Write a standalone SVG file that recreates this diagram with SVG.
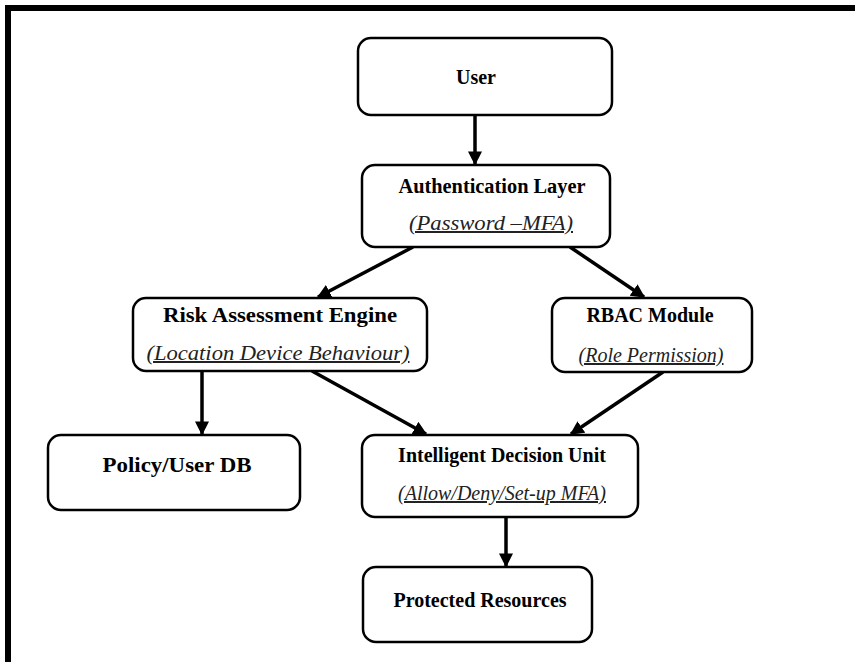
<svg xmlns="http://www.w3.org/2000/svg" width="855" height="662" viewBox="0 0 855 662">
<defs>
<style>
.box{fill:#fff;stroke:#000;stroke-width:2.5}
.t{font-family:"Liberation Serif","Times New Roman",serif;font-weight:bold;font-size:20px;fill:#000;text-anchor:middle}
.s{font-family:"Liberation Serif","Times New Roman",serif;font-style:italic;font-size:20px;fill:#222;text-anchor:middle;text-decoration:underline}
.c{stroke:#000;stroke-width:3.5;fill:none;marker-end:url(#ah)}
</style>
<marker id="ah" viewBox="0 0 10 10" refX="9" refY="5" markerWidth="4" markerHeight="4" orient="auto" markerUnits="strokeWidth">
<path d="M0,0 L10,5 L0,10 z" fill="#000"/>
</marker>
</defs>
<rect width="855" height="662" fill="#fff"/>
<g id="frame">
<line x1="5" y1="8" x2="855" y2="8" stroke="#000" stroke-width="6"/>
<line x1="8" y1="5" x2="8" y2="662" stroke="#000" stroke-width="6"/>
</g>
<g id="connectors">
<line class="c" x1="475" y1="115" x2="475" y2="164"/>
<line class="c" x1="413" y1="247" x2="318" y2="297"/>
<line class="c" x1="570" y1="247" x2="644" y2="297"/>
<line class="c" x1="202" y1="371" x2="202" y2="434"/>
<line class="c" x1="312" y1="371" x2="426" y2="434"/>
<line class="c" x1="663" y1="372" x2="571" y2="434"/>
<line class="c" x1="506" y1="517" x2="506" y2="566"/>
</g>
<g id="user">
<rect class="box" x="358" y="38" width="254" height="77" rx="13"/>
<text class="t" x="476" y="84">User</text>
</g>
<g id="auth">
<rect class="box" x="362" y="165" width="248" height="82" rx="13"/>
<text class="t" x="492" y="193" textLength="187" lengthAdjust="spacingAndGlyphs">Authentication Layer</text>
<text class="s" x="491" y="230" textLength="164" lengthAdjust="spacingAndGlyphs">(Password –MFA)</text>
</g>
<g id="risk">
<rect class="box" x="133" y="298" width="294" height="73" rx="13"/>
<text class="t" x="280" y="322" textLength="234" lengthAdjust="spacingAndGlyphs">Risk Assessment Engine</text>
<text class="s" x="278" y="360" textLength="263" lengthAdjust="spacingAndGlyphs">(Location Device Behaviour)</text>
</g>
<g id="rbac">
<rect class="box" x="552" y="298" width="200" height="74" rx="13"/>
<text class="t" x="650" y="322">RBAC Module</text>
<text class="s" x="651" y="362">(Role Permission)</text>
</g>
<g id="policy">
<rect class="box" x="48" y="435" width="252" height="75" rx="13"/>
<text class="t" x="177" y="472" textLength="149" lengthAdjust="spacingAndGlyphs">Policy/User DB</text>
</g>
<g id="decision">
<rect class="box" x="362" y="435" width="276" height="82" rx="13"/>
<text class="t" x="502" y="462">Intelligent Decision Unit</text>
<text class="s" x="502" y="500">(Allow/Deny/Set-up MFA)</text>
</g>
<g id="protected">
<rect class="box" x="363" y="567" width="229" height="75" rx="13"/>
<text class="t" x="480" y="607">Protected Resources</text>
</g>
</svg>
